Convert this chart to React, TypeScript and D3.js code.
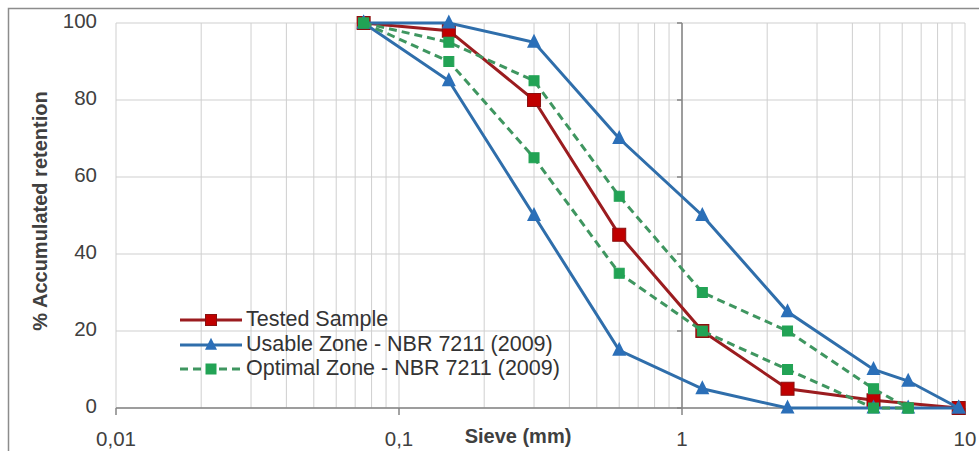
import React from "react";
import * as d3 from "d3";

// sieve openings (mm)
const sieves = [0.075, 0.15, 0.3, 0.6, 1.18, 2.36, 4.75, 6.3, 9.5];

const testedSample = [100, 98, 80, 45, 20, 5, 2, null, 0];
const usableUpper = [100, 100, 95, 70, 50, 25, 10, 7, 0];
const usableLower = [100, 85, 50, 15, 5, 0, 0, 0, 0];
const optimalUpper = [100, 95, 85, 55, 30, 20, 5, 0, null];
const optimalLower = [100, 90, 65, 35, 20, 10, 0, 0, null];

const yTicks = [0, 20, 40, 60, 80, 100];
const xTickLabels = ["0,01", "0,1", "1", "10"];
const xTickValues = [0.01, 0.1, 1, 10];

const legendLabels = [
  "Tested Sample",
  "Usable Zone - NBR 7211 (2009)",
  "Optimal Zone - NBR 7211 (2009)",
];

const RED = "#c00000";
const RED_LINE = "#9b1c1f";
const BLUE = "#2b6fb8";
const BLUE_LINE = "#2f6eab";
const GREEN = "#22a355";
const GREEN_LINE = "#3f9660";

const FONT = "'Liberation Sans', Arial, sans-serif";

export default function App() {
  const width = 979;
  const height = 451;
  const left = 116, right = 965, top = 23, bottom = 408;

  const x = d3.scaleLog().domain([0.01, 10]).range([left, right]);
  const y = d3.scaleLinear().domain([0, 100]).range([bottom, top]);

  const toPts = (vals: (number | null)[]) =>
    sieves.map((s, i) => [s, vals[i]] as [number, number | null]).filter((d) => d[1] !== null) as [number, number][];

  const line = d3.line<[number, number]>().x((d) => x(d[0])).y((d) => y(d[1]));

  // minor gridlines 1..9 per decade
  const gridX: number[] = [];
  for (const dec of [0.01, 0.1, 1]) {
    for (let k = 1; k <= 9; k++) gridX.push(dec * k);
  }
  gridX.push(10);

  const square = (cx: number, cy: number, s: number, fill: string, stroke: string, key: string) => (
    <rect key={key} x={cx - s / 2} y={cy - s / 2} width={s} height={s} fill={fill} stroke={stroke} strokeWidth={1} />
  );
  const triangle = (cx: number, cy: number, s: number, fill: string, key: string) => (
    <path key={key} d={`M${cx},${cy - s * 0.6} L${cx + s / 2},${cy + s * 0.4} L${cx - s / 2},${cy + s * 0.4} Z`} fill={fill} />
  );

  const legendY = [320, 345, 369];

  return (
    <svg width={width} height={height} style={{ position: "absolute", left: 0, top: 0, background: "#fff" }} fontFamily={FONT}>
      <rect x={8.5} y={8.5} width={1000} height={600} fill="#fff" stroke="#8c8c8c" strokeWidth={1.5} />

      {/* grid */}
      <g stroke="#cfcfcf" strokeWidth={1}>
        {gridX.map((v, i) => (
          <line key={"gx" + i} x1={x(v)} x2={x(v)} y1={top} y2={bottom} />
        ))}
        {yTicks.map((t) => (
          <line key={"gy" + t} x1={left} x2={right} y1={y(t)} y2={y(t)} />
        ))}
      </g>

      {/* axes */}
      <g stroke="#858585" strokeWidth={1.5}>
        <line x1={left} x2={right} y1={bottom} y2={bottom} />
        {xTickValues.map((v) => (
          <line key={"xt" + v} x1={x(v)} x2={x(v)} y1={bottom} y2={bottom + 7} />
        ))}
        <line x1={x(1)} x2={x(1)} y1={top} y2={bottom} />
        {yTicks.map((t) => (
          <line key={"yt" + t} x1={x(1) - 5} x2={x(1)} y1={y(t)} y2={y(t)} />
        ))}
      </g>

      {/* tick labels */}
      <g fontSize={20.5} fill="#404040">
        {yTicks.map((t) => (
          <text key={"yl" + t} x={97} y={y(t)} textAnchor="end" dominantBaseline="middle">
            {t}
          </text>
        ))}
        {xTickValues.map((v, i) => (
          <text key={"xl" + v} x={x(v)} y={441} textAnchor="middle" dominantBaseline="middle">
            {xTickLabels[i]}
          </text>
        ))}
      </g>

      <text x={518} y={438} textAnchor="middle" dominantBaseline="middle" fontSize={20} fontWeight="bold" fill="#404040">
        Sieve (mm)
      </text>
      <text
        transform={`translate(42,211) rotate(-90)`}
        textAnchor="middle"
        dominantBaseline="middle"
        fontSize={20}
        fontWeight="bold"
        fill="#404040"
      >
        % Accumulated retention
      </text>

      {/* Tested sample */}
      <path d={line(toPts(testedSample)) || ""} fill="none" stroke={RED_LINE} strokeWidth={3} />
      {toPts(testedSample).map((d, i) => square(x(d[0]), y(d[1]), 13, RED, "#8a1010", "r" + i))}

      {/* Usable zone */}
      {[usableUpper, usableLower].map((s, j) => (
        <g key={"u" + j}>
          <path d={line(toPts(s)) || ""} fill="none" stroke={BLUE_LINE} strokeWidth={3} />
          {toPts(s).map((d, i) => triangle(x(d[0]), y(d[1]), 14, BLUE, "u" + j + i))}
        </g>
      ))}

      {/* Optimal zone */}
      {[optimalUpper, optimalLower].map((s, j) => (
        <g key={"o" + j}>
          <path d={line(toPts(s)) || ""} fill="none" stroke={GREEN_LINE} strokeWidth={3} strokeDasharray="8,5" />
          {toPts(s).map((d, i) => square(x(d[0]), y(d[1]), 10, GREEN, GREEN, "o" + j + i))}
        </g>
      ))}

      {/* legend */}
      <g fontSize={21.5} fill="#333">
        <line x1={180} x2={242} y1={legendY[0]} y2={legendY[0]} stroke={RED_LINE} strokeWidth={3} />
        {square(211, legendY[0], 11, RED, "#8a1010", "lr")}
        <line x1={180} x2={242} y1={legendY[1]} y2={legendY[1]} stroke={BLUE_LINE} strokeWidth={3} />
        {triangle(211, legendY[1], 12, BLUE, "lb")}
        <line x1={180} x2={242} y1={legendY[2]} y2={legendY[2]} stroke={GREEN_LINE} strokeWidth={3} strokeDasharray="8,5" />
        {square(211, legendY[2], 10, GREEN, GREEN, "lg")}
        {legendLabels.map((l, i) => (
          <text key={l} x={246} y={legendY[i]} dominantBaseline="middle">
            {l}
          </text>
        ))}
      </g>
    </svg>
  );
}
